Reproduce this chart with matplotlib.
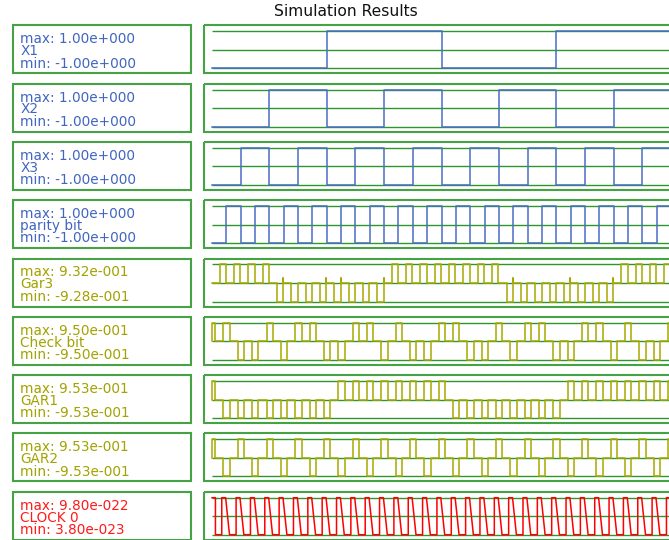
#!/usr/bin/env python3
"""Waveform viewer style plot of the parity-checker simulation."""
import matplotlib
matplotlib.use("Agg")
import matplotlib.pyplot as plt
from matplotlib.patches import Rectangle

W, H = 669, 540
DPI = 100

# time base: one unit = one parity half period
UNIT_PX = 14.345
T0_PX = 212

# row labels and extrema
names = ["X1", "X2", "X3", "parity bit", "Gar3", "Check bit", "GAR1", "GAR2", "CLOCK 0"]
max_txt = ["1.00e+000", "1.00e+000", "1.00e+000", "1.00e+000",
           "9.32e-001", "9.50e-001", "9.53e-001", "9.53e-001", "9.80e-022"]
min_txt = ["-1.00e+000", "-1.00e+000", "-1.00e+000", "-1.00e+000",
           "-9.28e-001", "-9.50e-001", "-9.53e-001", "-9.53e-001", "3.80e-023"]
hi_vals = [1.0, 1.0, 1.0, 1.0, 0.932, 0.950, 0.953, 0.953, 9.80e-22]
lo_vals = [-1.0, -1.0, -1.0, -1.0, -0.928, -0.950, -0.953, -0.953, 3.80e-23]

# square wave inputs (0 = low, 1 = high), one entry per half period
x1_bits = [0, 1, 0, 1, 0]
x2_bits = [0, 1, 0, 1, 0, 1, 0, 1, 0, 1]
x3_bits = [0, 1, 0, 1, 0, 1, 0, 1, 0, 1, 0, 1, 0, 1, 0, 1, 0, 1, 0]
parity_bits = [0, 1, 0, 1, 0, 1, 0, 1, 0, 1, 0, 1, 0, 1, 0, 1, 0, 1,
               0, 1, 0, 1, 0, 1, 0, 1, 0, 1, 0, 1, 0, 1, 0, 1, 0, 1, 0]

# pulse outputs, sign of the pulse in each clock slot
gar3_signs = [1, 1, 1, 1, -1, -1, -1, -1, -1, -1, -1, -1,
              1, 1, 1, 1, 1, 1, 1, 1, -1, -1, -1, -1, -1, -1, -1, -1,
              1, 1, 1, 1, 1, 1, 1, 1]
gar3_spike_slots = [4, 7, 8, 11, 20, 24, 27]
gar3_spike = 0.24
check_signs = [1, 1, -1, -1, 1, -1, 1, 1, -1, -1, 1, 1, -1, 1, -1, -1, 1,
               1, -1, -1, 1, -1, 1, 1, -1, -1, 1, 1, -1, 1, -1, -1, 1, 1, -1, -1]
gar1_signs = [1, -1, -1, -1, -1, -1, -1, -1, -1, 1, 1, 1, 1, 1, 1, 1, 1,
              -1, -1, -1, -1, -1, -1, -1, -1, 1, 1, 1, 1, 1, 1, 1, 1, -1, -1, -1]
gar2_signs = [1, -1, 1, -1, 1, -1, 1, -1, 1, -1, 1, -1, 1, -1, 1, -1, 1,
              -1, 1, -1, 1, -1, 1, -1, 1, -1, 1, -1, 1, -1, 1, -1, 1, -1, 1, -1]

# clock edges within one cycle: rise, start of fall, end of fall
clock_rise = 0.68
clock_fall = [0.95, 1.22]
clock_first_fall = 0.24
n_clock = 37

BLUE_TXT = "#4166bf"
OLIVE_TXT = "#a2a200"
RED_TXT = "#ff1a1a"
txt_colors = [BLUE_TXT] * 4 + [OLIVE_TXT] * 4 + [RED_TXT]
trace_colors = ["#4a6dc3"] * 4 + ["#a8a800"] * 4 + ["#ff0000"]
FRAME = "#45a345"
GRID = "#2f952f"

plt.rcParams["font.family"] = ["DejaVu Sans"]


def square(bits, seg, hi, lo):
    t, v = [], []
    for i, b in enumerate(bits):
        lv = hi if b else lo
        t += [i * seg, (i + 1) * seg]
        v += [lv, lv]
    return t, v


def pulses(signs, start, width, hi, lo, spikes=(), spike=0.0):
    t, v = [0.0], [0.0]
    for n, s in enumerate(signs):
        a = max(n + start, 0.0)
        b = n + start + width
        if b <= 0:
            continue
        lv = hi if s > 0 else lo
        t += [a, a, b, b]
        v += [0.0, lv, lv, 0.0]
        if n in spikes:
            t += [b, b]
            v += [spike, 0.0]
    t.append(40.0)
    v.append(0.0)
    return t, v


def clock(n, hi, lo):
    t, v = [0.0, clock_first_fall, clock_first_fall], [hi, hi, lo]
    for k in range(n):
        t += [k + clock_rise, k + clock_rise, k + clock_fall[0], k + clock_fall[1]]
        v += [lo, hi, hi, lo]
    return t, v


traces = [
    square(x1_bits, 8, 1.0, -1.0),
    square(x2_bits, 4, 1.0, -1.0),
    square(x3_bits, 2, 1.0, -1.0),
    square(parity_bits, 1, 1.0, -1.0),
    pulses(gar3_signs, 0.53, 0.44, hi_vals[4], lo_vals[4],
           gar3_spike_slots, gar3_spike),
    pulses(check_signs, -0.2, 0.44, hi_vals[5], lo_vals[5]),
    pulses(gar1_signs, -0.2, 0.44, hi_vals[6], lo_vals[6]),
    pulses(gar2_signs, -0.2, 0.44, hi_vals[7], lo_vals[7]),
    clock(n_clock, hi_vals[8], lo_vals[8]),
]

fig = plt.figure(figsize=(W / DPI, H / DPI), dpi=DPI)
canvas = fig.add_axes([0, 0, 1, 1])
canvas.set_xlim(0, W)
canvas.set_ylim(H, 0)
canvas.set_axis_off()

canvas.text(346, 11, "Simulation Results", ha="center", va="center",
            fontsize=11.2, color="#111111")

ROW0, PITCH, ROW_H = 25.3, 58.3, 48
BOX_X0, BOX_X1 = 13, 190.5
PANEL_X0, PANEL_X1 = 204, 720

for i, name in enumerate(names):
    top = ROW0 + PITCH * i
    canvas.add_patch(Rectangle((BOX_X0, top), BOX_X1 - BOX_X0, ROW_H,
                               fill=False, ec=FRAME, lw=1.5))
    canvas.add_patch(Rectangle((PANEL_X0, top), PANEL_X1 - PANEL_X0, ROW_H,
                               fill=False, ec=FRAME, lw=1.5))
    for dy, s in zip((14.0, 25.8, 38.3),
                     ("max: " + max_txt[i], name, "min: " + min_txt[i])):
        canvas.text(20.5, top + dy, s, ha="left", va="center",
                    fontsize=9.8, color=txt_colors[i])

    hi, lo = hi_vals[i], lo_vals[i]
    s = (hi - lo) / 37.0
    ax = fig.add_axes([PANEL_X0 / W, 1 - (top + ROW_H) / H,
                       (PANEL_X1 - PANEL_X0) / W, ROW_H / H])
    ax.set_axis_off()
    ax.patch.set_alpha(0)
    ax.set_xlim((PANEL_X0 - T0_PX) / UNIT_PX, (PANEL_X1 - T0_PX) / UNIT_PX)
    ax.set_ylim(lo - 5 * s, hi + 6 * s)
    ax.hlines([hi, (hi + lo) / 2, lo], 0, 40, colors=GRID, lw=1.0, zorder=1)
    t, v = traces[i]
    ax.plot(t, v, color=trace_colors[i], lw=1.1, zorder=2)

fig.savefig("out.png", dpi=DPI)
